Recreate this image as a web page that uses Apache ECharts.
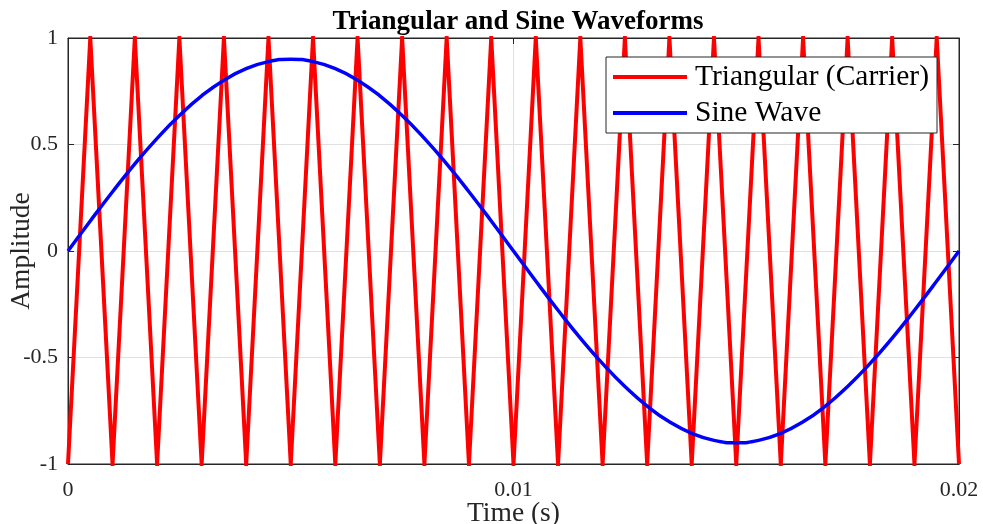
<!DOCTYPE html>
<html>
<head>
<meta charset="utf-8">
<title>Triangular and Sine Waveforms</title>
<script src="https://cdn.jsdelivr.net/npm/echarts@6/dist/echarts.min.js"></script>
<style>
  html, body { margin: 0; padding: 0; background: #ffffff; }
  #chart { width: 983px; height: 524px; }
</style>
</head>
<body>
<div id="chart"></div>
<script>
// Sample times (s): carrier vertices every half period (1 kHz carrier)
const timeS = [
  0, 0.0005, 0.001, 0.0015, 0.002, 0.0025, 0.003, 0.0035, 0.004, 0.0045,
  0.005, 0.0055, 0.006, 0.0065, 0.007, 0.0075, 0.008, 0.0085, 0.009, 0.0095,
  0.01, 0.0105, 0.011, 0.0115, 0.012, 0.0125, 0.013, 0.0135, 0.014, 0.0145,
  0.015, 0.0155, 0.016, 0.0165, 0.017, 0.0175, 0.018, 0.0185, 0.019, 0.0195,
  0.02
];

// Triangular carrier vertices
const triangular = [
  -1, 1, -1, 1, -1, 1, -1, 1, -1, 1,
  -1, 1, -1, 1, -1, 1, -1, 1, -1, 1,
  -1, 1, -1, 1, -1, 1, -1, 1, -1, 1,
  -1, 1, -1, 1, -1, 1, -1, 1, -1, 1,
  -1
];

// Sine reference samples (amplitude 0.9, 50 Hz)
const sineWave = [
  0, 0.141, 0.278, 0.409, 0.529, 0.636, 0.728, 0.802, 0.856, 0.889,
  0.9, 0.889, 0.856, 0.802, 0.728, 0.636, 0.529, 0.409, 0.278, 0.141,
  0, -0.141, -0.278, -0.409, -0.529, -0.636, -0.728, -0.802, -0.856, -0.889,
  -0.9, -0.889, -0.856, -0.802, -0.728, -0.636, -0.529, -0.409, -0.278, -0.141,
  0
];

const seriesNames = ['Triangular (Carrier)', 'Sine Wave'];
const xRange = [0, 0.02];
const xStep = 0.01;
const yRange = [-1, 1];
const yStep = 0.5;

const FONT = '"Liberation Serif", "Times New Roman", serif';
const INK = '#262626';

const pairs = (ys) => timeS.map((t, i) => [t, ys[i]]);

const axisCommon = {
  axisLine: { show: true, onZero: false, lineStyle: { color: INK, width: 1 } },
  axisTick: { show: true, inside: true, length: 6, lineStyle: { color: INK } }
};

const chart = echarts.init(document.getElementById('chart'), null, { renderer: 'canvas' });

chart.setOption({
  animation: false,
  backgroundColor: '#ffffff',
  title: {
    text: 'Triangular and Sine Waveforms',
    left: 513,
    textAlign: 'center',
    top: 4,
    textStyle: { fontFamily: FONT, fontSize: 27, fontWeight: 'bold', color: '#000000' }
  },
  grid: {
    left: 68, right: 24, top: 38, bottom: 60,
    show: true, borderColor: INK, borderWidth: 1,
    containLabel: false,
    outerBoundsMode: 'none'
  },
  legend: {
    orient: 'vertical',
    left: 606,
    top: 57,
    padding: [3, 8, 3, 7],
    itemGap: 2,
    itemWidth: 74,
    itemHeight: 4,
    icon: 'rect',
    backgroundColor: '#ffffff',
    borderColor: INK,
    borderWidth: 1,
    borderRadius: 0,
    data: seriesNames,
    textStyle: {
      fontFamily: FONT, fontSize: 29.5, color: '#000000',
      lineHeight: 34, padding: [0, 0, 0, 3]
    }
  },
  xAxis: [
    Object.assign({}, axisCommon, {
      type: 'value',
      min: xRange[0], max: xRange[1], interval: xStep,
      name: 'Time (s)',
      nameLocation: 'middle',
      nameGap: 36,
      nameMoveOverlap: false,
      nameTextStyle: { fontFamily: FONT, fontSize: 27.5, color: INK },
      axisLabel: { fontFamily: FONT, fontSize: 22, color: INK, margin: 15 },
      splitLine: { show: true, lineStyle: { color: '#e0e0e0', width: 1 } }
    }),
    Object.assign({}, axisCommon, {
      type: 'value', position: 'top',
      min: xRange[0], max: xRange[1], interval: xStep,
      axisLabel: { show: false },
      splitLine: { show: false }
    })
  ],
  yAxis: [
    Object.assign({}, axisCommon, {
      type: 'value',
      min: yRange[0], max: yRange[1], interval: yStep,
      name: 'Amplitude',
      nameLocation: 'middle',
      nameGap: 32,
      nameMoveOverlap: false,
      nameTextStyle: { fontFamily: FONT, fontSize: 27.5, color: INK },
      axisLabel: { fontFamily: FONT, fontSize: 22, color: INK, margin: 10 },
      splitLine: { show: true, lineStyle: { color: '#e0e0e0', width: 1 } }
    }),
    Object.assign({}, axisCommon, {
      type: 'value', position: 'right',
      min: yRange[0], max: yRange[1], interval: yStep,
      axisLabel: { show: false },
      splitLine: { show: false }
    })
  ],
  series: [
    {
      name: seriesNames[0],
      type: 'line',
      data: pairs(triangular),
      showSymbol: false,
      symbol: 'none',
      clip: true,
      color: '#ff0000',
      lineStyle: { color: '#ff0000', width: 4, join: 'miter', miterLimit: 20 },
      z: 2
    },
    {
      name: seriesNames[1],
      type: 'line',
      data: pairs(sineWave),
      smooth: 0.5,
      showSymbol: false,
      symbol: 'none',
      clip: true,
      color: '#0000ff',
      lineStyle: { color: '#0000ff', width: 3.5 },
      z: 3
    }
  ]
});
</script>
</body>
</html>
